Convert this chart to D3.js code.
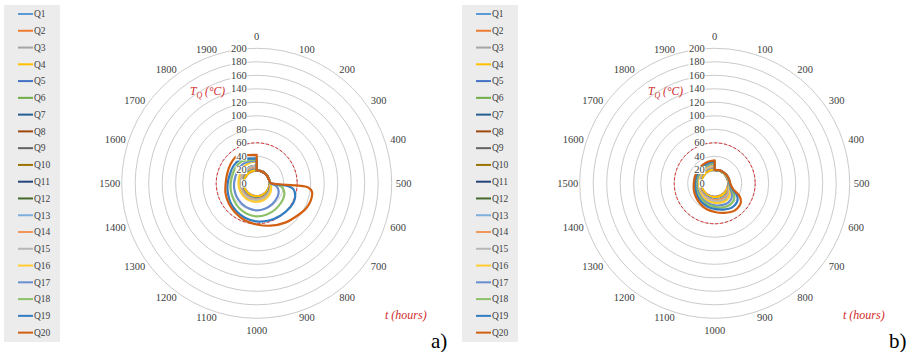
<!DOCTYPE html>
<html>
<head>
<meta charset="utf-8">
<script src="https://cdn.jsdelivr.net/npm/d3@7"></script>
<style>
  body { margin: 0; background: #fff; }
  svg { display: block; font-family: 'Liberation Serif', serif; }
</style>
</head>
<body>
<svg id="chart" width="917" height="352"></svg>
<script>
// time samples (hours) shared by every series
const hours = [0, 100, 200, 300, 400, 450, 500, 525, 550, 600, 650, 700, 800, 900, 1000,
  1100, 1200, 1300, 1400, 1500, 1600, 1700, 1800, 1900, 2000];
const hourLabels = ['0', '100', '200', '300', '400', '500', '600', '700', '800', '900', '1000',
  '1100', '1200', '1300', '1400', '1500', '1600', '1700', '1800', '1900'];
const tempTicks = [0, 20, 40, 60, 80, 100, 120, 140, 160, 180, 200];
const tempLimit = 60;
const seriesNames = ['Q1', 'Q2', 'Q3', 'Q4', 'Q5', 'Q6', 'Q7', 'Q8', 'Q9', 'Q10',
  'Q11', 'Q12', 'Q13', 'Q14', 'Q15', 'Q16', 'Q17', 'Q18', 'Q19', 'Q20'];
const seriesColors = ['#5B9BD5', '#ED7D31', '#A5A5A5', '#FFC000', '#4472C4', '#70AD47',
  '#255E91', '#9E480E', '#636363', '#997300', '#264478', '#43682B',
  '#7CAFDD', '#F1975A', '#B7B7B7', '#FFCD33', '#698ED0', '#8CC168', '#327DC2', '#D26012'];

// panel a) temperatures, one row per series Q1..Q20
const tempA = [
  [19,19,19,19,19,19,19,19,19,19,19,19,19,19,19,19,19,19,19,19,19,19,19,19,19],
  [19,19,19,19,19,19,19,19,19,19,19,19,19,19,19,19,19,19,19,19,19,19,19,19,19],
  [19,19,19,19,19,19,19,19,19,19,19,19,19,19.5,19.5,19.5,19.5,19.5,19.5,19.5,19.5,19.5,19.5,19.5,19.5],
  [19,19,19,19,19,19,19,19,19,19,19,19,19.5,19.5,19.5,19.5,19.5,19.5,19.5,19.5,19.5,19.5,19.5,19.5,19.5],
  [19,19,19,19,19,19,19,19.5,20,20.5,21,21.5,22,22.5,22.5,22.5,22.5,22.5,22.5,22.5,22.5,23,23,23,23],
  [19,19,19,19,19,19,19,19.5,20,20.5,21,21.5,22,22.5,22.5,22.5,22.5,22.5,22.5,22.5,22.5,23,23,23,23],
  [19,19,19,19,19,19,19,20,20.5,21,21.5,22,22.5,23,23,23,23,23,23,23,23,23.5,23.5,23.5,23.5],
  [19,19,19,19,19,19,19,20,20.5,21,21.5,22,22.5,23,23,23,23,23,23,23,23,23.5,23.5,23.5,23.5],
  [19,19,19,19,19,19,19,20,21,21.5,22,22.5,23,23.5,24,24,24,24,24,24,24,24.5,24.5,24.5,24.5],
  [19,19,19,19,19,19,19,20,21,21.5,22,22.5,23,23.5,24,24,24,24,24,24,24,24.5,24.5,24.5,24.5],
  [19,19,19,19,19,19,19,20,21,22,22.5,23,24,24.5,25,25,25,25,25,25,25,25.5,26,26,26],
  [19,19,19,19,19,19,19,20,21,22,22.5,23,24,24.5,25,25,25,25,25,25,25,25.5,26,26,26],
  [19,19,19,19,19,19,19,20,20.5,21,21.5,22,22.5,23,23,23,23,23,23,23,23,23.5,23.5,23.5,23.5],
  [19,19,19,19,19,19,19,20,21,21.5,22,22.5,23,23.5,24,24,24,24,24,24,24,24.5,24.5,24.5,24.5],
  [19,19,19,19,19,19,19,20,21,22,22.5,23,24,24.5,25,25,25,25,25,25,25,25.5,26,26,26],
  [19,19,19,19,19,19,19.5,20.5,21.5,22.5,23.5,24.5,26,27,27.5,27.5,27.5,27,27,27,27.5,29,31,32,32],
  [19,19,19,19,19,19,20,25,30,34,36,37,38.5,39.5,40,39,37.5,36,34.5,33.5,33,34,35,34,33],
  [19,19,19,19,19,19,20.5,31,38,43,45,46,47.5,48.5,49,47.5,45,42,40,38.5,38,39,39.5,36,35],
  [19,19,19,19,19,19,21,44,55,60,61.5,61,59.5,58,56.5,54,51,48,45,43,42,43,43,38.5,37],
  [19,19,19,19,19,19,22,76,83,84,82,78,72,66,61,57.5,54,51,48.5,46,46,48,50,44,42]
];

// panel b) temperatures, one row per series Q1..Q20
const tempB = [
  [20,20,20,20,20,20,20,20,20,20,20,20,20,20,20,20,20,20,20,20,20,20,20,20,20],
  [20,20,20,20,20,20,20,20,20,20,20,20,20,20,20,20,20,20,20,20,20,20,20,20,20],
  [20,20,20,20,20,20,20,20,20,20,20,20,20.5,20.5,20,20,20,20,20,20,20,20,20,20,20],
  [20,20,20,20,20,20,20,20,20,20,20,20.5,20.5,20.5,20.5,20.5,20.5,20,20,20,20,20,20.5,20.5,20.5],
  [20,20,20,20,20.5,20.5,20.5,21,21,21.5,22.5,23.5,24.5,24.5,24,23.5,23,23,22.5,22.5,22.5,23,23.5,24,24],
  [20,20,20,20,20.5,20.5,20.5,21,21,21.5,22.5,23.5,24.5,24.5,24,23.5,23,23,22.5,22.5,22.5,23,23.5,24,24],
  [20,20,20,20,20.5,20.5,20.5,21,21,21.5,22.5,23.5,24.5,24.5,24,23.5,23,23,22.5,22.5,22.5,23,23.5,24,24],
  [20,20,20,20,20.5,20.5,21,21,21,21.5,23,24.5,25.5,25.5,25,24.5,24,23.5,23,23,23,23.5,24,24.5,25],
  [20,20,20,20,20.5,20.5,21,21,21,21.5,23,24.5,25.5,25.5,25,24.5,24,23.5,23,23,23,23.5,24,24.5,25],
  [20,20,20,20,20.5,20.5,21,21,21,21.5,23,24.5,25.5,25.5,25,24.5,24,23.5,23,23,23,23.5,24,24.5,25],
  [20,20,20,20.5,20.5,21,21,21,21.5,22,24,26,27.5,27,26.5,25.5,25,24.5,24,23.5,23.5,24,25,25.5,26],
  [20,20,20,20.5,20.5,21,21,21,21.5,22,24,26,27.5,27,26.5,25.5,25,24.5,24,23.5,23.5,24,25,25.5,26],
  [20,20,20,20,20.5,20.5,20.5,21,21,21.5,22.5,23.5,24.5,24.5,24,23.5,23,23,22.5,22.5,22.5,23,23.5,24,24],
  [20,20,20,20,20.5,20.5,21,21,21,21.5,23,24.5,25.5,25.5,25,24.5,24,23.5,23,23,23,23.5,24,24.5,25],
  [20,20,20,20.5,20.5,21,21,21,21.5,22,24,26,27.5,27,26.5,25.5,25,24.5,24,23.5,23.5,24,25,25.5,26],
  [20,20,20,20.5,21,21,21.5,21.5,22,23,25.5,28,30.5,30,29,28,27,26,25.5,25,25,25.5,26.5,27,27.5],
  [20,20,20.5,21,21,21.5,21.5,22,22.5,24,28,32,35,34,32.5,31,29.5,28,27,26.5,26.5,27,28,28.5,29],
  [20,20,20.5,21,21.5,22,22,22.5,23,25.5,31,36,39,37.5,35,33,31,29.5,28.5,27.5,27.5,28,29,30,30],
  [20,20.5,21,21.5,22,22,22.5,23,24,27,36,42,44,41,38,36,34,32,30,29,29,29.5,30.5,31.5,32],
  [20,20.5,21,21.5,22,22.5,23,24,25,29,41,48,50,46,42.5,40,37,34.5,32.5,31,31,31.5,32.5,33.5,34]
];

const svg = d3.select('#chart');
const serif = 'Liberation Serif, serif';
const textColor = '#404040';
const redColor = '#d12b2b';
const outerR = 135;

const angle = d3.scaleLinear().domain([0, 2000]).range([0, 2 * Math.PI]);
const radius = d3.scaleLinear().domain([0, 200]).range([0, outerR]);

// category label placement, pushed out a little the way Excel does it
function labelPos(h) {
  const s = Math.sin(angle(h)), c = Math.cos(angle(h));
  const side = Math.abs(s) < 1e-6 ? 0 : 1;
  return [s * 147 + side * 5 * Math.sign(s) * Math.abs(c), -c * 147 + side * 6 * c];
}

function drawPanel(x0, data, tag) {
  const g = svg.append('g').attr('transform', `translate(${x0},0)`);
  const cx = 256.7, cy = 183.3;

  // legend box
  g.append('rect')
    .attr('x', 4).attr('y', 5)
    .attr('width', 56).attr('height', 337)
    .attr('fill', '#ececec');

  const legend = g.selectAll('.legend-item')
    .data(seriesNames)
    .enter()
    .append('g')
    .attr('class', 'legend-item')
    .attr('transform', (d, i) => `translate(0,${14 + i * 16.77})`);
  legend.append('line')
    .attr('x1', 18).attr('x2', 33)
    .attr('stroke', (d, i) => seriesColors[i])
    .attr('stroke-width', 2);
  legend.append('text')
    .attr('x', 34).attr('dy', '0.35em')
    .attr('font-family', serif)
    .attr('font-size', 9.5)
    .attr('fill', textColor)
    .text(d => d);

  const plot = g.append('g').attr('transform', `translate(${cx},${cy})`);

  // circular grid
  plot.selectAll('.grid')
    .data(tempTicks.slice(1))
    .enter()
    .append('circle')
    .attr('class', 'grid')
    .attr('r', d => radius(d))
    .attr('fill', 'none')
    .attr('stroke', '#bdbdbd')
    .attr('stroke-width', 0.8);

  // limit temperature
  plot.append('circle')
    .attr('r', radius(tempLimit))
    .attr('fill', 'none')
    .attr('stroke', '#e02a2a')
    .attr('stroke-width', 1)
    .attr('stroke-dasharray', '3,2');

  // series
  const line = d3.lineRadial()
    .angle((d, i) => angle(hours[i]))
    .radius(d => radius(d))
    .curve(d3.curveCatmullRom.alpha(0.5));

  plot.selectAll('.series')
    .data(data)
    .enter()
    .append('path')
    .attr('class', 'series')
    .attr('d', d => line(d) + 'Z')
    .attr('fill', 'none')
    .attr('stroke', (d, i) => seriesColors[i])
    .attr('stroke-width', 2.2)
    .attr('stroke-linejoin', 'round');

  // value axis labels (drawn over the grid with a white box)
  tempTicks.forEach(v => {
    const lg = plot.append('g');
    const bg = lg.append('rect').attr('fill', '#fff');
    const t = lg.append('text')
      .attr('x', -10)
      .attr('y', -radius(v))
      .attr('dy', '0.35em')
      .attr('text-anchor', 'end')
      .attr('font-family', serif)
      .attr('font-size', 10.5)
      .attr('fill', textColor)
      .text(v);
    const b = t.node().getBBox();
    bg.attr('x', b.x - 0.5).attr('y', b.y + 1.5)
      .attr('width', b.width + 1).attr('height', b.height - 3);
  });

  // hour labels round the outside
  plot.selectAll('.hour')
    .data(hourLabels)
    .enter()
    .append('text')
    .attr('class', 'hour')
    .attr('x', d => labelPos(+d)[0])
    .attr('y', d => labelPos(+d)[1])
    .attr('dy', '0.35em')
    .attr('text-anchor', 'middle')
    .attr('font-family', serif)
    .attr('font-size', 10.5)
    .attr('fill', textColor)
    .text(d => d);

  // axis titles
  const tq = g.append('text')
    .attr('x', 190).attr('y', 91).attr('dy', '0.35em')
    .attr('font-family', serif)
    .attr('font-size', 11.5)
    .attr('font-style', 'italic')
    .attr('fill', redColor);
  tq.append('tspan').text('T');
  tq.append('tspan').attr('dy', 3).attr('font-size', 8).text('Q');
  tq.append('tspan').attr('dy', -3).text(' (°C)');

  g.append('text')
    .attr('x', 385).attr('y', 315).attr('dy', '0.35em')
    .attr('font-family', serif)
    .attr('font-size', 12)
    .attr('font-style', 'italic')
    .attr('fill', redColor)
    .text('t (hours)');

  g.append('text')
    .attr('x', 431).attr('y', 348)
    .attr('font-family', serif)
    .attr('font-size', 21)
    .attr('fill', '#000')
    .text(tag);
}

drawPanel(0, tempA, 'a)');
drawPanel(458, tempB, 'b)');
</script>
</body>
</html>
